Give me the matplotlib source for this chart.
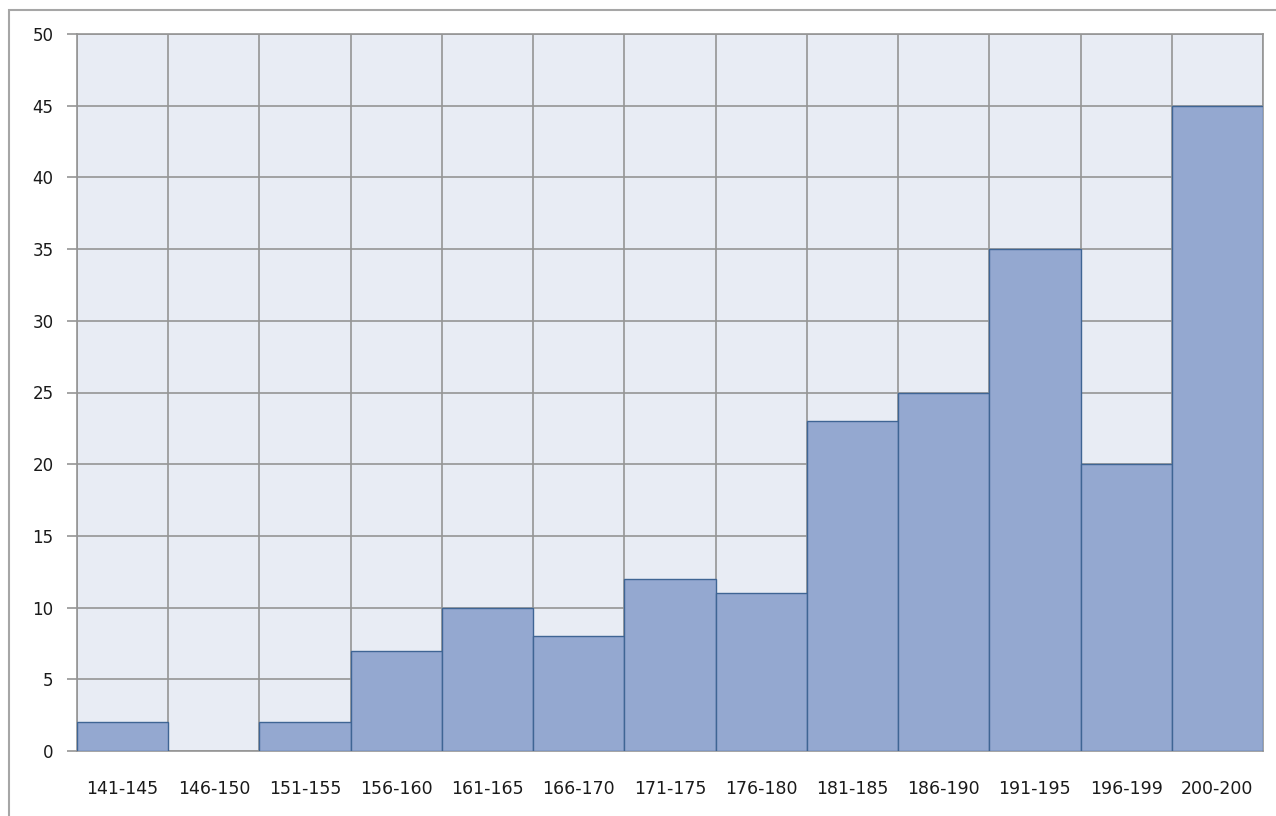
import numpy as np
import matplotlib
matplotlib.use('Agg')
from matplotlib import pyplot as plt
from matplotlib.patches import Rectangle

categories = ['141-145', '146-150', '151-155', '156-160', '161-165', '166-170', '171-175',
              '176-180', '181-185', '186-190', '191-195', '196-199', '200-200']
counts = [2, 0, 2, 7, 10, 8, 12, 11, 23, 25, 35, 20, 45]
y_ticks = [0, 5, 10, 15, 20, 25, 30, 35, 40, 45, 50]

grid_col = '#959595'

fig = plt.figure(figsize=(12.76, 8.16), dpi=100)
# outer chart border (runs off the right and bottom edge)
fig.patches.append(Rectangle((9 / 1276, -0.05), 1.2, 1 - 10 / 816 + 0.05,
                             transform=fig.transFigure, fill=False,
                             edgecolor='#a6a6a6', linewidth=1.5))

ax = fig.add_axes([77 / 1276, 1 - 751 / 816, (1263 - 77) / 1276, (751 - 34) / 816])
ax.set_facecolor('#e8ecf4')

x = np.arange(len(categories))
edges = ['#3f6594' if c > 0 else 'none' for c in counts]
ax.bar(x, counts, width=1.0, color='#94a8d0', edgecolor=edges, linewidth=1.0, zorder=3)

ax.set_xlim(-0.5, len(categories) - 0.5)
ax.set_ylim(0, 50)
ax.set_yticks(y_ticks)
ax.set_xticks(x)
ax.set_xticklabels(categories)

# vertical grid lines on category boundaries
for b in np.arange(-0.5, len(categories), 1.0):
    ax.axvline(b, color=grid_col, linewidth=1.2, zorder=1)
for t in y_ticks:
    ax.axhline(t, color=grid_col, linewidth=1.2, zorder=1)

for s in ax.spines.values():
    s.set_color(grid_col)
    s.set_linewidth(1.2)

ax.tick_params(axis='y', length=7, width=1.2, color=grid_col, pad=10, labelsize=12, labelcolor='#1a1a1a')
ax.tick_params(axis='x', length=0, pad=21, labelsize=12.5, labelcolor='#1a1a1a')

fig.savefig('out.png', dpi=100)
